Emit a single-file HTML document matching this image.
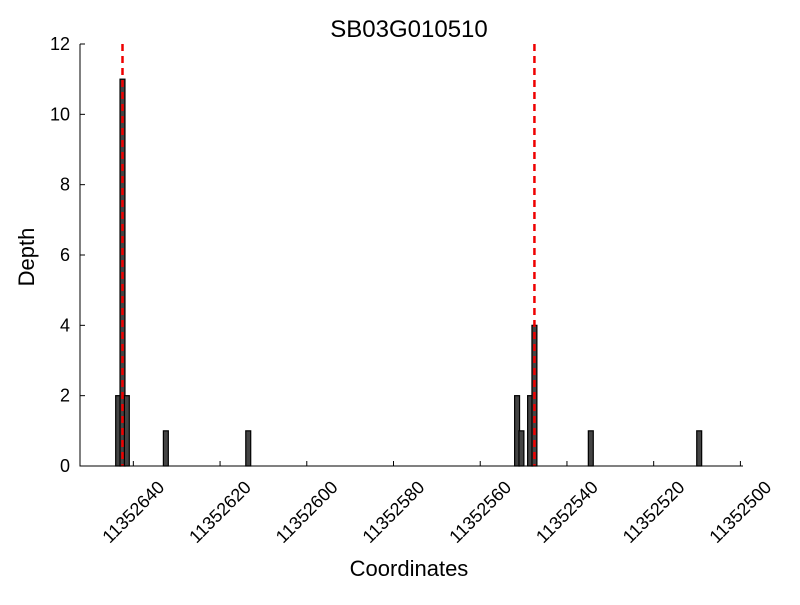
<!DOCTYPE html>
<html><head><meta charset="utf-8"><style>
body{margin:0;background:#fff;font-family:"Liberation Sans",sans-serif}
</style></head><body>
<svg id="chart" width="800" height="600" xmlns="http://www.w3.org/2000/svg" font-family="Liberation Sans, sans-serif">
<rect width="800" height="600" fill="#fff"/>
<text x="409" y="37" font-size="24" text-anchor="middle">SB03G010510</text>
<text transform="translate(34,257) rotate(-90)" font-size="22" text-anchor="middle">Depth</text>
<text x="409" y="576" font-size="22" text-anchor="middle">Coordinates</text>
<g id="plot"></g>
</svg>
<script>
const positions=[11352644,11352643,11352642,11352633,11352614,11352552,11352551,11352549,11352548,11352535,11352510];
const depths=[2,11,2,1,1,2,1,2,4,1,1];
const markers=[11352642.5,11352547.5];
const xTicks=[11352640,11352620,11352600,11352580,11352560,11352540,11352520,11352500];
const yTicks=[0,2,4,6,8,10,12];
const L=80,R=743,T=44,B=466;
const xMax=11352652.3,xMin=11352499.4;
const x=v=>L+(xMax-v)/(xMax-xMin)*(R-L);
const y=v=>B-v/12*(B-T);
const g=document.getElementById('plot');
const NS='http://www.w3.org/2000/svg';
function mk(t,a){const e=document.createElementNS(NS,t);for(const k in a)e.setAttribute(k,a[k]);g.appendChild(e);return e;}
positions.forEach((p,i)=>{
 const e=mk('rect',{x:x(p)-0.3,y:y(depths[i]),width:x(p-1)-x(p)+0.6,height:B-y(depths[i]),fill:'#444',stroke:'#000','stroke-width':1.2});
 
 
});
markers.forEach(m=>{
 const e=mk('line',{x1:x(m),x2:x(m),y1:T,y2:B,stroke:'#e00','stroke-width':2.5,'stroke-dasharray':'7,5'});
 
 
});
const ax=mk('path',{d:`M${L},${T}V${B}H${R}`,fill:'none',stroke:'#000','stroke-width':1});


yTicks.forEach(t=>{
 mk('line',{x1:L,x2:L+5,y1:y(t),y2:y(t),stroke:'#000'});
 const e=mk('text',{x:L-10,y:y(t)+6,'font-size':18,'text-anchor':'end'});
 e.textContent=t;
 
 
});
xTicks.forEach(t=>{
 const px=x(t);
 mk('line',{x1:px,x2:px,y1:B,y2:B-5,stroke:'#000'});
 const cy=B+46;
 const e=mk('text',{x:px,y:cy+6,'font-size':18,'text-anchor':'middle',transform:`rotate(-45 ${px} ${cy})`});
 e.textContent=t;
 
 
});
</script>
</body></html>
